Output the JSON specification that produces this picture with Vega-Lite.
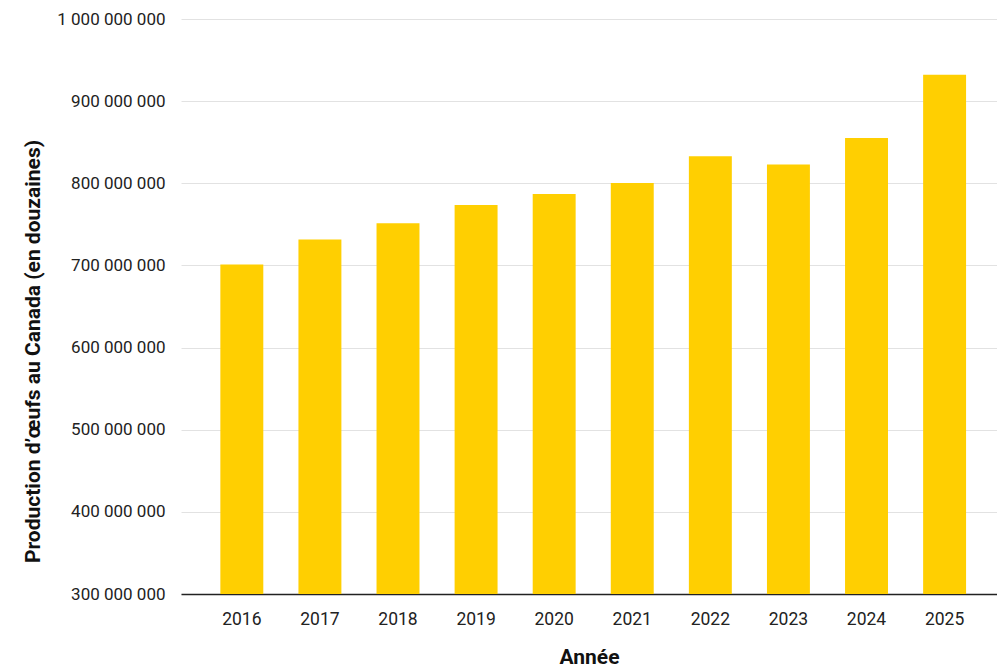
{
  "$schema": "https://vega.github.io/schema/vega-lite/v6.json",
  "autosize": {"type": "none"},
  "width": 816,
  "height": 575,
  "padding": {"left": 181, "top": 19, "right": 0, "bottom": 78},
  "config": {
    "locale": {"number": {"decimal": ",", "thousands": " ", "grouping": [3], "currency": ["", " $"]}},
    "view": {"stroke": null},
    "font": "Roboto"
  },
  "data": {
    "values": [
      {"annee": "2016", "production": 701000000},
      {"annee": "2017", "production": 731500000},
      {"annee": "2018", "production": 751500000},
      {"annee": "2019", "production": 773500000},
      {"annee": "2020", "production": 787000000},
      {"annee": "2021", "production": 800500000},
      {"annee": "2022", "production": 833000000},
      {"annee": "2023", "production": 823000000},
      {"annee": "2024", "production": 855000000},
      {"annee": "2025", "production": 932000000}
    ]
  },
  "mark": {"type": "bar", "color": "#FFCF01", "clip": true},
  "encoding": {
    "x": {
      "field": "annee",
      "type": "ordinal",
      "scale": {"paddingInner": 0.45, "paddingOuter": 0.45, "align": 0.56},
      "axis": {
        "title": "Année",
        "labelAngle": 0,
        "labelFont": "Roboto",
        "labelFontSize": 17.5,
        "labelColor": "#222222",
        "labelPadding": 16,
        "ticks": false,
        "domainColor": "#222222",
        "domainWidth": 1.5,
        "titleFont": "Roboto",
        "titleFontSize": 21,
        "titleFontWeight": "bold",
        "titleColor": "#111111",
        "titlePadding": 19
      }
    },
    "y": {
      "field": "production",
      "type": "quantitative",
      "scale": {"domain": [300000000, 1000000000], "nice": false, "zero": false},
      "axis": {
        "title": "Production d’œufs au Canada (en douzaines)",
        "values": [300000000, 400000000, 500000000, 600000000, 700000000, 800000000, 900000000, 1000000000],
        "format": ",d",
        "domain": false,
        "ticks": false,
        "labelFont": "Roboto",
        "labelFontSize": 17,
        "labelColor": "#222222",
        "labelPadding": 16,
        "gridColor": "#e2e2e2",
        "gridWidth": 1,
        "titleFont": "Roboto",
        "titleFontSize": 21,
        "titleFontWeight": "bold",
        "titleColor": "#111111",
        "titleAngle": -90,
        "titleX": -148,
        "titleY": 332,
        "titleAlign": "center",
        "titleBaseline": "middle"
      }
    }
  }
}
